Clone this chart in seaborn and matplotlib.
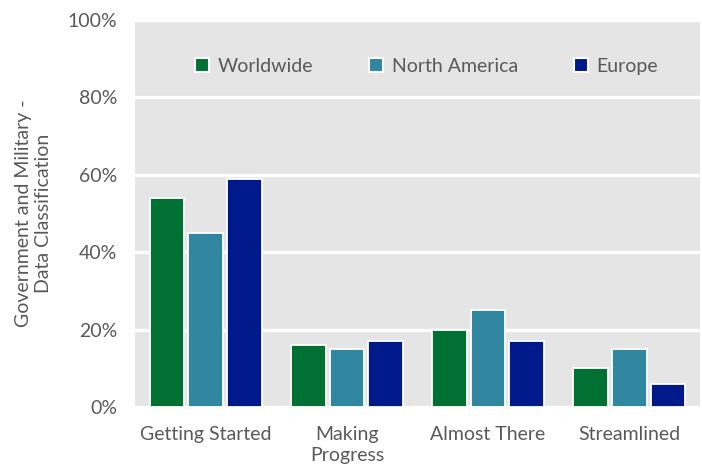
import matplotlib
matplotlib.use("Agg")
import matplotlib.pyplot as plt
import seaborn as sns
import pandas as pd
from matplotlib.patches import Patch

categories = ["Getting Started", "Making\nProgress", "Almost There", "Streamlined"]
series_names = ["Worldwide", "North America", "Europe"]
worldwide = [54, 16, 20, 10]
north_america = [45, 15, 25, 15]
europe = [59, 17, 17, 6]
y_ticks = [0, 20, 40, 60, 80, 100]
y_label = "Government and Military -\nData Classification"

colors = ["#007033", "#31879F", "#001A8C"]
text_color = "#595959"
fs = 14

rows = []
for name, vals in zip(series_names, [worldwide, north_america, europe]):
    for c, v in zip(categories, vals):
        rows.append({"category": c, "series": name, "value": v})
df = pd.DataFrame(rows)

sns.set_theme(style="white")
plt.rcParams["font.family"] = ["Lato", "DejaVu Sans"]

fig = plt.figure(figsize=(7.02, 4.71), dpi=100)
ax = fig.add_axes([135 / 702, (471 - 407) / 471, (700 - 135) / 702, (407 - 20) / 471])
ax.set_facecolor("#E5E5E5")

sns.barplot(data=df, x="category", y="value", hue="series", order=categories,
            hue_order=series_names, palette=colors, width=0.82, gap=0.1,
            edgecolor="white", linewidth=1.3, saturation=1, ax=ax, legend=False)

ax.set_ylim(0, 100)
ax.set_yticks(y_ticks)
ax.set_yticklabels([f"{t}%" for t in y_ticks])
ax.grid(axis="y", color="white", linewidth=2.4)
ax.grid(axis="x", visible=False)
ax.set_axisbelow(True)
for s in ax.spines.values():
    s.set_visible(False)
ax.tick_params(axis="both", length=0, labelsize=fs, colors=text_color)
ax.tick_params(axis="y", pad=13)
ax.tick_params(axis="x", pad=14)
for lab in ax.get_xticklabels():
    lab.set_linespacing(1.25)
ax.set_xlabel("")
ax.set_ylabel(y_label, color=text_color, fontsize=fs, labelpad=11, linespacing=1.2)

handles = [Patch(facecolor=c, edgecolor="white", linewidth=1.5) for c in colors]
leg = ax.legend(handles, series_names, loc="center", bbox_to_anchor=(0.516, 0.88), ncol=3,
                frameon=False, fontsize=fs, handlelength=0.7, handleheight=0.7,
                handletextpad=0.45, columnspacing=2.9)
for t in leg.get_texts():
    t.set_color(text_color)

fig.savefig("out.png", dpi=100)
